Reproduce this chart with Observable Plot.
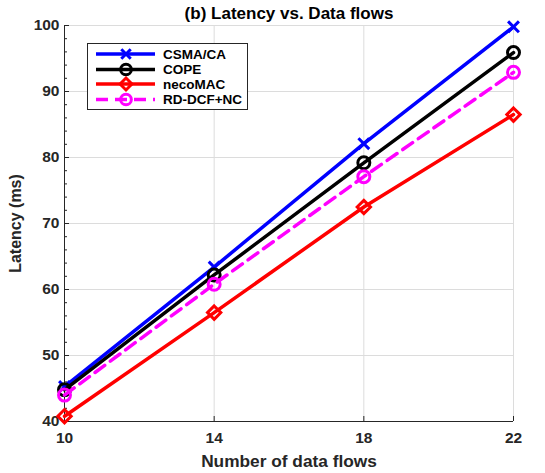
<!DOCTYPE html>
<html>
<head>
<meta charset="utf-8">
<script src="https://cdn.jsdelivr.net/npm/d3@7"></script>
<script src="https://cdn.jsdelivr.net/npm/@observablehq/plot@0.6"></script>
<style>
  html, body { margin: 0; padding: 0; background: #fff; }
  svg { font-family: "Liberation Sans", Arial, sans-serif; }
</style>
</head>
<body>
<div id="chart"></div>
<script>
const flows = [10, 14, 18, 22];
const seriesNames = ["CSMA/CA", "COPE", "necoMAC", "RD-DCF+NC"];
const csma = [45.3, 63.4, 82.1, 99.8];
const cope = [44.8, 62.2, 79.2, 95.9];
const neco = [40.8, 56.5, 72.5, 86.5];
const rddcf = [44.0, 60.8, 77.1, 92.9];
const yTicks = [40, 50, 60, 70, 80, 90, 100];
const yMinorTicks = [42, 44, 46, 48, 52, 54, 56, 58, 62, 64, 66, 68, 72, 74, 76, 78, 82, 84, 86, 88, 92, 94, 96, 98];
const xTicks = [10, 14, 18, 22];
const title = "(b) Latency vs. Data flows";
const xLabel = "Number of data flows";
const yLabel = "Latency (ms)";

const colors = ["#0000ff", "#000000", "#ff0000", "#ff00ff"];
const symbols = ["times", "circle", "diamond2", "circle"];
const dashes = [null, null, null, "12,7"];
const values = [csma, cope, neco, rddcf];

const data = [];
seriesNames.forEach((s, i) => flows.forEach((f, j) => data.push({series: s, x: f, y: values[i][j], idx: i})));

const marks = [
  Plot.gridX(xTicks, {stroke: "#dcdcdc", strokeOpacity: 1, strokeWidth: 1}),
  Plot.gridY(yTicks, {stroke: "#dcdcdc", strokeOpacity: 1, strokeWidth: 1}),
  Plot.axisX(xTicks, {tickSize: 0, tickPadding: 10, fontSize: 15.5, fontWeight: "bold", color: "#262626", label: null, tickFormat: d => d}),
  Plot.axisY(yTicks, {tickSize: 0, tickPadding: 5, fontSize: 15.5, fontWeight: "bold", color: "#262626", label: null}),
  Plot.ruleX(xTicks, {stroke: "#262626", strokeWidth: 1, insetTop: 391}),
  Plot.ruleY(yTicks, {stroke: "#262626", strokeWidth: 1, insetRight: 444}),
  Plot.ruleY(yMinorTicks, {stroke: "#262626", strokeWidth: 1, insetRight: 446}),
  Plot.ruleX([10], {stroke: "#262626", strokeWidth: 1}),
  Plot.ruleY([40], {stroke: "#262626", strokeWidth: 1}),
];
seriesNames.forEach((s, i) => {
  const d = data.filter(r => r.idx === i);
  marks.push(Plot.line(d, {x: "x", y: "y", stroke: colors[i], strokeWidth: 3.5, strokeDasharray: dashes[i]}));
  marks.push(Plot.dot(d, {x: "x", y: "y", stroke: colors[i], symbol: symbols[i], r: i === 0 ? 5 : 6, strokeWidth: 3, fill: "none"}));
});
marks.push(Plot.text([title], {frameAnchor: "top", lineAnchor: "top", dy: -19, fontSize: 17, fontWeight: "bold", fill: "#000"}));
marks.push(Plot.text([xLabel], {frameAnchor: "bottom", lineAnchor: "bottom", dy: 45, fontSize: 17.3, fontWeight: "bold", fill: "#262626"}));
marks.push(Plot.text([yLabel], {frameAnchor: "left", textAnchor: "middle", dx: -49, rotate: -90, fontSize: 16, fontWeight: "bold", fill: "#262626"}));

const plot = Plot.plot({
  width: 545,
  height: 473,
  marginLeft: 64,
  marginRight: 32,
  marginTop: 25,
  marginBottom: 52,
  x: {domain: [10, 22]},
  y: {domain: [40, 100]},
  style: {fontFamily: "'Liberation Sans', Arial, sans-serif", overflow: "visible"},
  marks
});
document.getElementById("chart").appendChild(plot);

// legend
const svg = d3.select(plot);
const g = svg.append("g");
g.append("rect").attr("x", 87.5).attr("y", 43.5).attr("width", 160).attr("height", 66)
  .attr("fill", "#fff").attr("stroke", "#262626").attr("stroke-width", 1);
const ys = [54, 69.5, 84, 99.5];
seriesNames.forEach((s, i) => {
  g.append("line").attr("x1", 96).attr("x2", 155).attr("y1", ys[i]).attr("y2", ys[i])
    .attr("stroke", colors[i]).attr("stroke-width", 3.5).attr("stroke-dasharray", dashes[i]);
  const sym = d3.symbol().type(
    symbols[i] === "times" ? d3.symbolTimes : symbols[i] === "diamond2" ? d3.symbolDiamond2 : d3.symbolCircle
  ).size(i === 0 ? 60 : 90)();
  g.append("path").attr("d", sym).attr("transform", `translate(126,${ys[i]})`)
    .attr("fill", "none").attr("stroke", colors[i]).attr("stroke-width", 3);
  g.append("text").attr("x", 163).attr("y", ys[i]).attr("dy", "0.35em").attr("text-anchor", "start")
    .attr("font-size", 13.5).attr("font-weight", "bold").attr("fill", "#000").text(s);
});
</script>
</body>
</html>
